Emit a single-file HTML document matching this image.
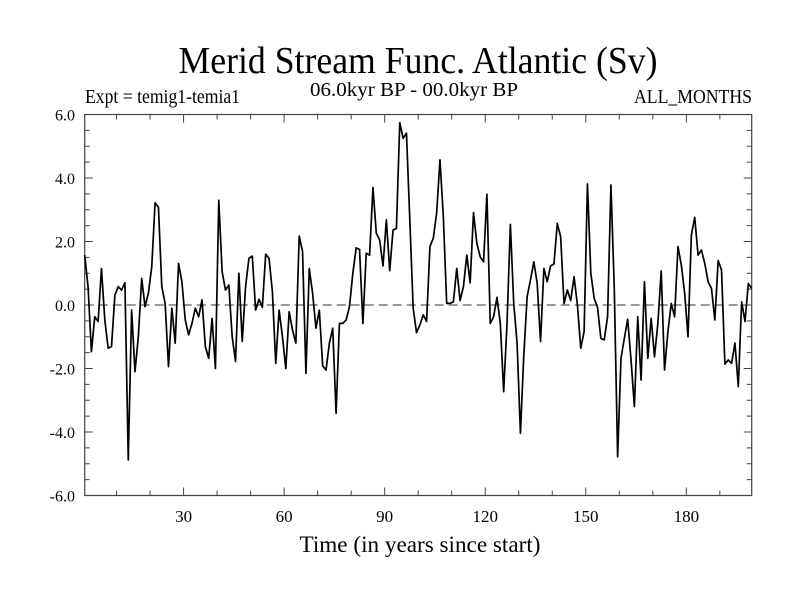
<!DOCTYPE html>
<html><head><meta charset="utf-8"><style>
html,body{margin:0;padding:0;background:#fff;}
svg{display:block;font-family:"Liberation Serif",serif;}
</style></head><body>
<svg id="chart" width="800" height="600" viewBox="0 0 800 600">
<text x="418" y="73" font-size="38" text-anchor="middle" textLength="479" lengthAdjust="spacingAndGlyphs">Merid Stream Func. Atlantic (Sv)</text>
<text x="85" y="103" font-size="20" textLength="155" lengthAdjust="spacingAndGlyphs">Expt = temig1-temia1</text>
<text x="414" y="96" font-size="20" text-anchor="middle" textLength="208" lengthAdjust="spacingAndGlyphs">06.0kyr BP - 00.0kyr BP</text>
<text x="752" y="103" font-size="20" text-anchor="end" textLength="118" lengthAdjust="spacingAndGlyphs">ALL_MONTHS</text>
<text x="420" y="552" font-size="23" text-anchor="middle" textLength="241" lengthAdjust="spacingAndGlyphs">Time (in years since start)</text>
<g id="axes"></g>
<g id="series"></g>
</svg>
<script>
const values = [1.57,0.58,-1.47,-0.37,-0.52,1.15,-0.47,-1.36,-1.31,0.31,
0.58,0.47,0.70,-4.88,-0.16,-2.1,-1.0,0.84,-0.05,0.37,
1.2,3.22,3.08,0.58,0.05,-1.94,-0.1,-1.2,1.31,0.73,
-0.47,-0.94,-0.58,-0.1,-0.37,0.16,-1.31,-1.68,-0.42,-2.0,
3.3,1.05,0.47,0.63,-1.0,-1.78,1.0,-1.15,0.58,1.47,
1.54,-0.16,0.18,-0.07,1.6,1.47,0.42,-1.84,-0.16,-1.0,
-2.0,-0.21,-0.79,-1.2,2.17,1.68,-2.15,1.15,0.37,-0.73,
-0.16,-1.92,-2.05,-1.2,-0.73,-3.41,-0.58,-0.58,-0.47,-0.05,
1.0,1.8,1.75,-0.58,1.63,1.57,3.7,2.26,2.05,1.23,
2.68,1.08,2.36,2.41,5.74,5.25,5.41,2.68,-0.1,-0.87,
-0.63,-0.31,-0.52,1.84,2.1,2.89,4.57,2.78,0.05,0.05,
0.1,1.15,0.14,0.58,1.57,0.7,2.91,1.94,1.52,1.36,
3.49,-0.58,-0.37,0.24,-0.58,-2.73,-0.58,2.54,0.05,-1.2,
-4.04,-1.6,0.26,0.79,1.36,0.68,-1.15,1.15,0.73,1.23,
1.29,2.57,2.15,0.05,0.47,0.14,0.89,0.0,-1.36,-0.84,
3.81,1.0,0.21,-0.07,-1.05,-1.1,-0.37,3.78,0.52,-4.78,
-1.68,-1.05,-0.45,-1.73,-3.2,-0.37,-2.36,0.73,-1.68,-0.42,
-1.63,-0.58,1.07,-2.05,-0.84,0.05,-0.37,1.84,1.26,0.37,
-1.0,2.2,2.76,1.57,1.73,1.31,0.73,0.52,-0.47,1.4,
1.1,-1.86,-1.73,-1.84,-1.2,-2.57,0.1,-0.52,0.68,0.52];
const xTickLabels = [30,60,90,120,150,180];
const yTickLabels = ["-6.0","-4.0","-2.0","0.0","2.0","4.0","6.0"];

const L=84.7,R=751.7,T=114.5,B=495.5;
const xMin=0.5,xMax=199.5,yMin=-6,yMax=6;
function xs(t){return L+(t-xMin)/(xMax-xMin)*(R-L);}
function ys(v){return B-(v-yMin)/(yMax-yMin)*(B-T);}
const NS="http://www.w3.org/2000/svg";
const axes=document.getElementById('axes');
const series=document.getElementById('series');
function mk(tag,attrs,parent){const e=document.createElementNS(NS,tag);for(const k in attrs)e.setAttribute(k,attrs[k]);parent.appendChild(e);return e;}

const frame=mk('rect',{x:L,y:T,width:R-L,height:B-T,fill:'none',stroke:'#444','stroke-width':1.2},axes);



const zl=mk('line',{x1:L,x2:R,y1:ys(0),y2:ys(0),stroke:'#333','stroke-width':1,'stroke-dasharray':'9,5'},axes);



for(let t=10;t<200;t+=10){
  const major=(t%30===0);const len=major?8:5;const x=xs(t);
  const a=mk('line',{x1:x,x2:x,y1:B,y2:B-len,stroke:'#444','stroke-width':1},axes);
  
  
  const b=mk('line',{x1:x,x2:x,y1:T,y2:T+len,stroke:'#444','stroke-width':1},axes);
  
  
}
xTickLabels.forEach(t=>{
  const tx=mk('text',{x:xs(t),y:522,'font-size':17,'text-anchor':'middle'},axes);
  tx.textContent=t;
  
  
});
for(let v=-5.5;v<6;v+=0.5){
  const major=(Math.abs(v%2)<1e-9);const len=major?8:5;const y=ys(v);
  const a=mk('line',{x1:L,x2:L+len,y1:y,y2:y,stroke:'#444','stroke-width':1},axes);
  
  
  const b=mk('line',{x1:R,x2:R-len,y1:y,y2:y,stroke:'#444','stroke-width':1},axes);
  
  
}
yTickLabels.forEach(s=>{
  const tx=mk('text',{x:75,y:ys(parseFloat(s))+6,'font-size':16,'text-anchor':'end'},axes);
  tx.textContent=s;
  
  
});
const pts=values.map((v,i)=>xs(i+0.5).toFixed(2)+','+ys(v).toFixed(2)).join(' ');
const pl=mk('polyline',{points:pts,fill:'none',stroke:'#000','stroke-width':1.7,'stroke-linejoin':'round'},series);


</script>
</body></html>
